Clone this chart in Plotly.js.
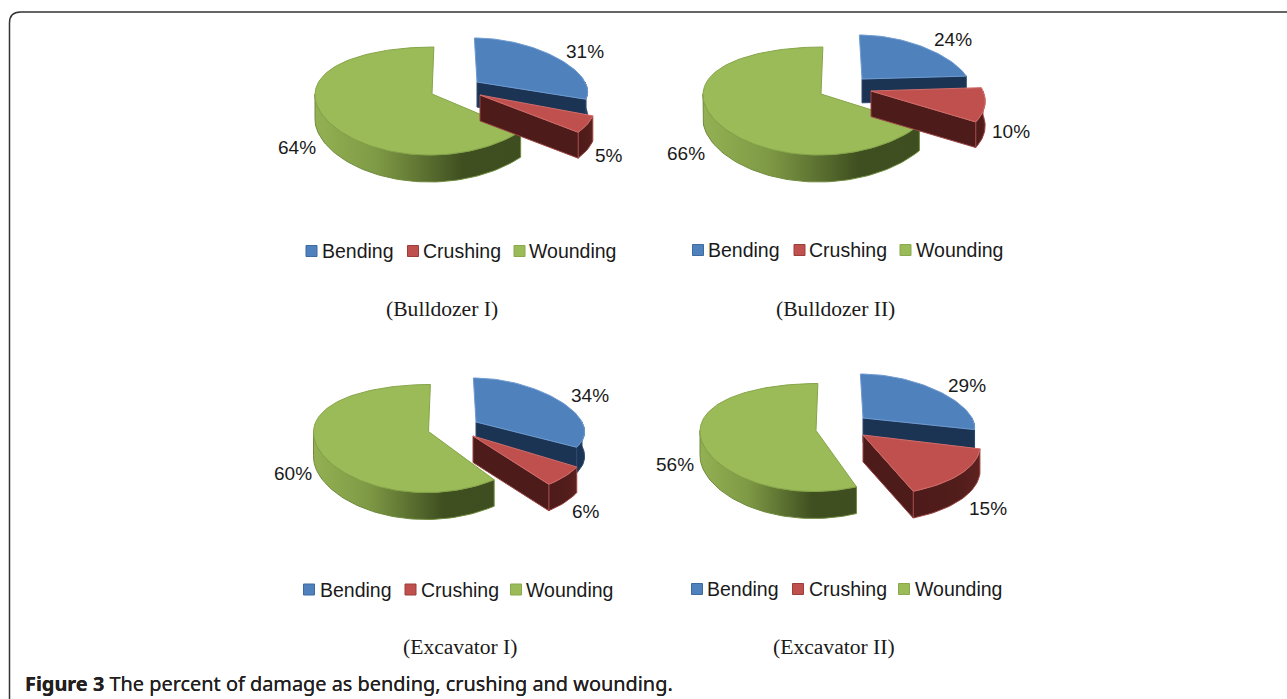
<!DOCTYPE html>
<html>
<head>
<meta charset="utf-8">
<script src="https://cdn.plot.ly/plotly-3.0.1.min.js"></script>
<style>html,body{margin:0;padding:0;background:#fff}#chart{width:1287px;height:699px}</style>
</head>
<body>
<div id="chart"></div>
<script>
// ---------- data ----------
const categories = ["Bending", "Crushing", "Wounding"];
const pieNames = ["(Bulldozer I)", "(Bulldozer II)", "(Excavator I)", "(Excavator II)"];
const bulldozerI = [31, 5, 64];
const bulldozerII = [24, 10, 66];
const excavatorI = [34, 6, 60];
const excavatorII = [29, 15, 56];
const captionBold = "Figure 3";
const captionRest = " The percent of damage as bending, crushing and wounding.";
const pieValues = [bulldozerI, bulldozerII, excavatorI, excavatorII];

// ---------- layout of the four tilted pies (pixel-like axis units) ----------
const apexes = [
  [[477, 82], [480, 95], [432, 94]],
  [[862, 79], [871, 91], [821, 94]],
  [[476, 422], [473, 436], [428.5, 431.5]],
  [[863, 418], [863, 435], [816, 430.5]]
];
const radii = [[108, 113, 117], [106, 112, 118], [106, 111, 115], [109, 115, 116]];
const shape3d = [ // half-height a, far/near difference b, perspective k, skew s
  {a: 46, b: 2, k: 0.2, s: 0.06},
  {a: 54, b: 7, k: 0.2, s: 0},
  {a: 54, b: 7, k: 0, s: -0.04}
];
const faceColors = ["#4F81BD", "#C0504D", "#9BBB59"];
const edgeColors = ["#6f9bd0", "#d06d6a", "#86a549"];
const wallColors = ["#1C3454", "#4D1B1A", "#5f7a30"];
const wallEdges = ["#2c4a70", "#9a4643", "#6f8a3d"];
const greenWallScale = [[0, "#93B153"], [0.3, "#7F9A45"], [0.72, "#3F4F20"], [1, "#3E4E20"]];
const redWallScale = [[0, "#4D1B1A"], [0.7, "#521D1B"], [1, "#5E2220"]];
const swatchEdges = ["#3f6a9e", "#9a3f3c", "#8aa84c"];
const legendSwatchX = [[311.5, 413, 519.5], [698, 799.5, 905.5], [309, 410.5, 516], [697, 798, 904]];
const legendTextX = [[322, 423, 529], [708, 809, 916], [320, 421, 526], [707, 808.5, 915]];
const legendY = [251, 250, 589.5, 589];
const percentPos = [
  [[585, 51], [608.5, 155], [297, 147]],
  [[953, 39], [1011, 131], [686, 153]],
  [[590, 395], [585.5, 511], [293, 473]],
  [[967, 385], [988, 508], [675, 464]]
];
const namePos = [[442, 309], [835, 309], [460, 647], [834, 647]];

// ---------- projection of a slice angle through the tilted ellipse ----------
function project(deg, apex, r, g) {
  const t = deg * Math.PI / 180, c = Math.cos(t), sn = Math.sin(t);
  const y = -g.a * c + g.b * c * c;
  return [apex[0] + r * sn * (1 - g.k * c) + g.s * y, apex[1] + y];
}
const wallH = deg => 24 - 3 * Math.cos(deg * Math.PI / 180);
function arc(a0, a1, apex, r, g) {
  const n = Math.max(2, Math.ceil(Math.abs(a1 - a0) / 2)), pts = [];
  for (let i = 0; i <= n; i++) {
    const d = a0 + (a1 - a0) * i / n;
    pts.push([...project(d, apex, r, g), d]);
  }
  return pts;
}
const traces = [];
function poly(pts, fill, line, extra) {
  traces.push(Object.assign({
    type: "scatter", mode: "lines", x: pts.map(p => p[0]), y: pts.map(p => p[1]),
    fill: "toself", fillcolor: fill, line: {color: line, width: 1},
    hoverinfo: "skip", showlegend: false
  }, extra || {}));
}
function wall(pts, fill, line, extra) {
  const bottom = pts.slice().reverse().map(p => [p[0], p[1] + wallH(p[2]), p[2]]);
  const ring = pts.concat(bottom);
  ring.push(pts[0]);
  poly(ring, fill, line, extra);
}

pieValues.forEach((vals, p) => {
  const angles = [];
  let acc = 0;
  vals.forEach(v => { angles.push([acc * 3.6, (acc + v) * 3.6]); acc += v; });
  [2, 0, 1].forEach(i => {
    const [a0, a1] = angles[i], apex = apexes[p][i], r = radii[p][i], g = shape3d[i];
    // visible outer wall (near half of the rim only)
    const wa0 = Math.max(a0, 90), wa1 = Math.min(a1, 270);
    if (wa1 > wa0) {
      const extra = i === 2
        ? {fillgradient: {type: "horizontal", colorscale: greenWallScale}}
        : (i === 1 ? {fillgradient: {type: "horizontal", colorscale: redWallScale}} : {});
      wall(arc(wa0, wa1, apex, r, g), wallColors[i], wallEdges[i], extra);
    }
    // visible radial wall
    if (i === 0 || i === 1) {
      const e = project(a1, apex, r, g);
      wall([[apex[0], apex[1], a1], [e[0], e[1], a1]], wallColors[i], wallEdges[i]);
    }
    // top face
    const face = [[apex[0], apex[1]]].concat(arc(a0, a1, apex, r, g));
    face.push([apex[0], apex[1]]);
    poly(face, faceColors[i], edgeColors[i], {name: categories[i] + " " + vals[i] + "%"});
  });
});

// legend swatches, one marker per category beside each pie
categories.forEach((cat, i) => {
  traces.push({
    type: "scatter", mode: "markers", name: cat,
    x: legendSwatchX.map(row => row[i]), y: legendY,
    marker: {symbol: "square", size: 11, color: faceColors[i], line: {color: swatchEdges[i], width: 1}},
    hoverinfo: "skip", showlegend: false
  });
});

const annotations = [];
function label(text, x, y, size, family, anchor, color, extraFont) {
  annotations.push({
    text, x, y, xref: "x", yref: "y", showarrow: false, xanchor: anchor, yanchor: "middle",
    font: Object.assign({size, family, color}, extraFont || {}), borderpad: 0, borderwidth: 0
  });
}
pieValues.forEach((vals, p) => {
  vals.forEach((v, i) => {
    label(v + "%", percentPos[p][i][0], percentPos[p][i][1], 19, "Liberation Sans", "center", "#1a1a1a");
    label(categories[i], legendTextX[p][i], legendY[p], 19.5, "Liberation Sans", "left", "#1a1a1a");
  });
  label(pieNames[p], namePos[p][0], namePos[p][1], 21.6, "Liberation Serif", "center", "#1a1a1a");
});
label("<b>" + captionBold + "</b>" + captionRest, 25, 683, 19.9, "Noto Sans", "left", "#231f20",
      {shadow: "0 0 0.6px #231f20"});

const layout = {
  width: 1287, height: 699,
  margin: {l: 0, r: 0, t: 0, b: 0},
  paper_bgcolor: "#ffffff", plot_bgcolor: "#ffffff",
  showlegend: false,
  xaxis: {range: [0, 1287], visible: false, fixedrange: true},
  yaxis: {range: [699, 0], visible: false, fixedrange: true},
  annotations,
  shapes: [{
    type: "path", layer: "below", xref: "x", yref: "y",
    path: "M 9.5 699 L 9.5 23 Q 9.5 12 20.5 12 L 1287 12",
    line: {color: "#333333", width: 1.5}
  }]
};
Plotly.newPlot("chart", traces, layout, {staticPlot: true, displayModeBar: false});
</script>
</body>
</html>
